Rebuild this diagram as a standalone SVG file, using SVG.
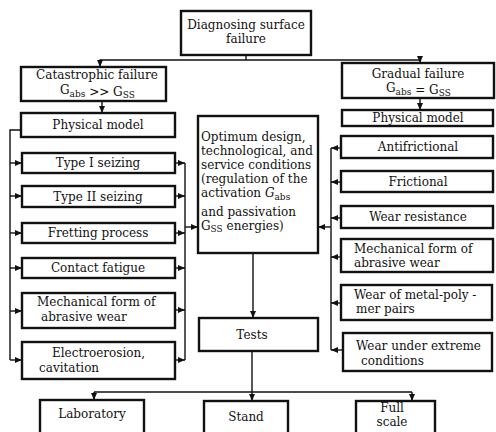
<svg xmlns="http://www.w3.org/2000/svg" width="496" height="432" viewBox="0 0 496 432">
<defs>
<marker id="ah" markerUnits="userSpaceOnUse" markerWidth="7" markerHeight="6" refX="7" refY="3" orient="auto">
<path d="M0,0 L7,3 L0,6 Z" fill="#111"/>
</marker>
<style>
.box{fill:#fff;stroke:#111;stroke-width:2.4}
.t{font-family:"DejaVu Serif","Liberation Serif",serif;font-size:12px;fill:#111}
.c{text-anchor:middle}
.sub{font-size:9px}
.ln{fill:none;stroke:#111;stroke-width:1.4}
</style>
</defs>
<rect width="496" height="432" fill="#fff"/>

<g id="connectors">
<path class="ln" d="M246,55 V60"/>
<path class="ln" d="M246,60 H100 V67" marker-end="url(#ah)"/>
<path class="ln" d="M246,60 H420 V63" marker-end="url(#ah)"/>
<path class="ln" d="M102,101 V113" marker-end="url(#ah)"/>
<path class="ln" d="M420,98 V110" marker-end="url(#ah)"/>
<path class="ln" d="M21,130 H10 V360"/>
<path class="ln" d="M10,163 H22" marker-end="url(#ah)"/>
<path class="ln" d="M10,196 H22" marker-end="url(#ah)"/>
<path class="ln" d="M10,233 H22" marker-end="url(#ah)"/>
<path class="ln" d="M10,268 H22" marker-end="url(#ah)"/>
<path class="ln" d="M10,311 H22" marker-end="url(#ah)"/>
<path class="ln" d="M10,360 H22" marker-end="url(#ah)"/>
<path class="ln" d="M175,163 H185" marker-end="url(#ah)"/>
<path class="ln" d="M175,196 H185" marker-end="url(#ah)"/>
<path class="ln" d="M175,233 H185" marker-end="url(#ah)"/>
<path class="ln" d="M175,268 H185" marker-end="url(#ah)"/>
<path class="ln" d="M175,310 H185" marker-end="url(#ah)"/>
<path class="ln" d="M175,360 H185" marker-end="url(#ah)"/>
<path class="ln" d="M185,163 V360"/>
<path class="ln" d="M185,227 H198" marker-end="url(#ah)"/>
<path class="ln" d="M331,148 V350"/>
<path class="ln" d="M341,148 H331" marker-end="url(#ah)"/>
<path class="ln" d="M341,182 H331" marker-end="url(#ah)"/>
<path class="ln" d="M341,218 H331" marker-end="url(#ah)"/>
<path class="ln" d="M341,257 H331" marker-end="url(#ah)"/>
<path class="ln" d="M341,303 H331" marker-end="url(#ah)"/>
<path class="ln" d="M343,350 H331" marker-end="url(#ah)"/>
<path class="ln" d="M331,227 H318" marker-end="url(#ah)"/>
<path class="ln" d="M253,253 V318" marker-end="url(#ah)"/>
<path class="ln" d="M252,351 V401" marker-end="url(#ah)"/>
<path class="ln" d="M94,392 H412"/>
<path class="ln" d="M94,392 V400" marker-end="url(#ah)"/>
<path class="ln" d="M412,392 V401" marker-end="url(#ah)"/>
</g>

<g id="n-diagnosing">
<rect class="box" x="181" y="11" width="130" height="44"/>
<text class="t c" x="246" y="29">Diagnosing surface</text>
<text class="t c" x="246" y="43">failure</text>
</g>

<g id="n-catastrophic">
<rect class="box" x="21" y="67" width="145" height="34"/>
<text class="t c" x="97" y="79">Catastrophic failure</text>
<text class="t" x="60" y="94">G<tspan class="sub" dy="3">abs</tspan><tspan dy="-1">  &gt;&gt;  </tspan>G<tspan class="sub" dy="2">SS</tspan></text>
</g>

<g id="n-gradual">
<rect class="box" x="342" y="63" width="152" height="35"/>
<text class="t c" x="418" y="78">Gradual failure</text>
<text class="t" x="386" y="92">G<tspan class="sub" dy="3">abs</tspan><tspan dy="-1">  =  </tspan>G<tspan class="sub" dy="2">SS</tspan></text>
</g>

<g id="n-phys-left">
<rect class="box" x="21" y="113" width="154" height="24"/>
<text class="t c" x="98" y="129">Physical model</text>
</g>

<g id="n-phys-right">
<rect class="box" x="342" y="110" width="151" height="16"/>
<text class="t c" x="418" y="122">Physical model</text>
</g>

<g id="n-type1">
<rect class="box" x="22" y="153" width="153" height="20"/>
<text class="t c" x="98" y="167">Type I seizing</text>
</g>
<g id="n-type2">
<rect class="box" x="22" y="186" width="153" height="21"/>
<text class="t c" x="98" y="201">Type II seizing</text>
</g>
<g id="n-fretting">
<rect class="box" x="22" y="223" width="153" height="20"/>
<text class="t c" x="98" y="237">Fretting process</text>
</g>
<g id="n-contact">
<rect class="box" x="22" y="258" width="153" height="20"/>
<text class="t c" x="98" y="272">Contact fatigue</text>
</g>
<g id="n-mech-left">
<rect class="box" x="22" y="293" width="153" height="35"/>
<text class="t" x="37" y="306">Mechanical form of</text>
<text class="t" x="41" y="321">abrasive wear</text>
</g>
<g id="n-electro">
<rect class="box" x="22" y="342" width="153" height="37"/>
<text class="t" x="52" y="357">Electroerosion,</text>
<text class="t" x="39" y="372">cavitation</text>
</g>

<g id="n-center">
<rect class="box" x="198" y="116" width="120" height="137"/>
<text class="t" x="201" y="141">Optimum design,</text>
<text class="t" x="201" y="155">technological, and</text>
<text class="t" x="201" y="169">service conditions</text>
<text class="t" x="201" y="183">(regulation of the</text>
<text class="t" x="201" y="197">activation <tspan font-style="italic">G</tspan><tspan class="sub" dy="3">abs</tspan></text>
<text class="t" x="201" y="216">and passivation</text>
<text class="t" x="201" y="230">G<tspan class="sub" dy="2">SS</tspan><tspan dy="-2">  energies)</tspan></text>
</g>

<g id="n-antifrictional">
<rect class="box" x="341" y="136" width="152" height="22"/>
<text class="t c" x="418" y="151">Antifrictional</text>
</g>
<g id="n-frictional">
<rect class="box" x="341" y="171" width="152" height="21"/>
<text class="t c" x="418" y="186">Frictional</text>
</g>
<g id="n-wear-res">
<rect class="box" x="341" y="206" width="152" height="22"/>
<text class="t c" x="418" y="221">Wear resistance</text>
</g>
<g id="n-mech-right">
<rect class="box" x="341" y="239" width="152" height="33"/>
<text class="t" x="354" y="253">Mechanical form of</text>
<text class="t" x="354" y="267">abrasive wear</text>
</g>
<g id="n-metal-poly">
<rect class="box" x="341" y="285" width="151" height="35"/>
<text class="t" x="354" y="299">Wear of metal-poly -</text>
<text class="t" x="356" y="313">mer pairs</text>
</g>
<g id="n-extreme">
<rect class="box" x="343" y="333" width="149" height="38"/>
<text class="t" x="356" y="350">Wear under extreme</text>
<text class="t" x="361" y="365">conditions</text>
</g>

<g id="n-tests">
<rect class="box" x="199" y="318" width="119" height="33"/>
<text class="t c" x="252" y="339">Tests</text>
</g>

<g id="n-laboratory">
<rect class="box" x="40" y="400" width="104" height="40"/>
<text class="t c" x="92" y="418">Laboratory</text>
</g>
<g id="n-stand">
<rect class="box" x="204" y="401" width="84" height="40"/>
<text class="t c" x="246" y="421">Stand</text>
</g>
<g id="n-fullscale">
<rect class="box" x="356" y="401" width="79" height="40"/>
<text class="t c" x="392" y="412">Full</text>
<text class="t c" x="392" y="426">scale</text>
</g>
</svg>
